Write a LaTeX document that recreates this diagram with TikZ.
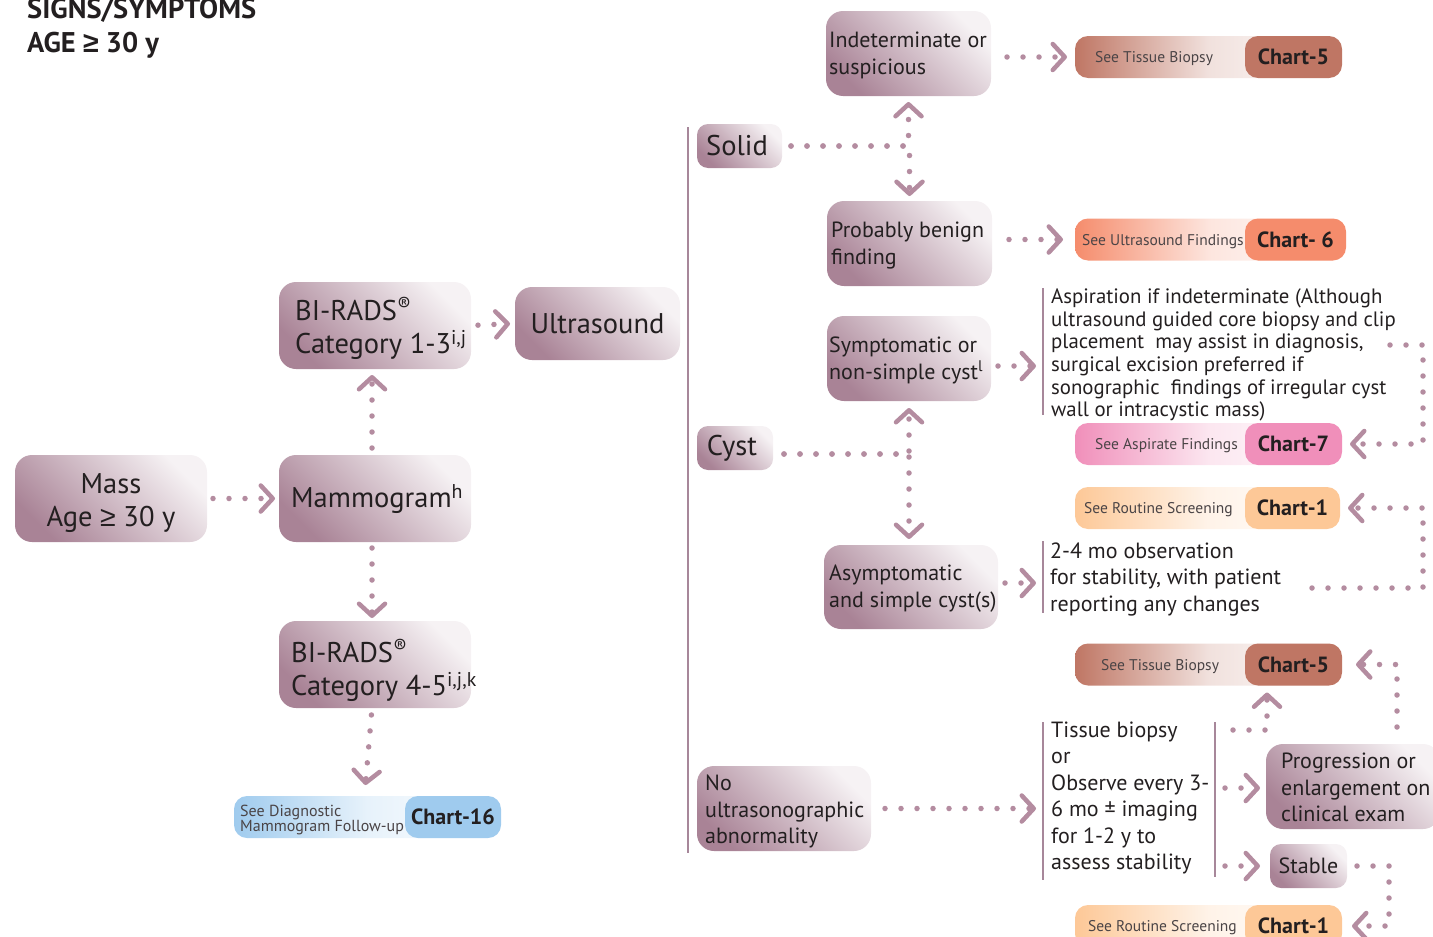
\documentclass[tikz,border=0pt]{standalone}
\usepackage{fontspec}
\setmainfont{PT Sans}
\newfontfamily\symfont{Liberation Sans}
\newcommand\gesign{{\symfont ≥}}
\usetikzlibrary{arrows.meta}

\definecolor{mauve}{HTML}{B48CA0}
\definecolor{mauvebar}{HTML}{A7879A}
\definecolor{boxdark}{HTML}{A98396}
\definecolor{boxlight}{HTML}{F6F2F4}
\definecolor{ink}{HTML}{231F20}
\definecolor{softink}{HTML}{4A4446}
\definecolor{cfive}{HTML}{BF7664}
\definecolor{csix}{HTML}{F58C6C}
\definecolor{cseven}{HTML}{F08FBA}
\definecolor{cone}{HTML}{FDC897}
\definecolor{csixteen}{HTML}{9FCBEE}

\tikzset{
  fbox/.style={rounded corners=17pt, top color=boxlight, bottom color=boxdark,
    shading angle=-45, text=ink, inner sep=0pt, outer sep=0pt},
  boxtext/.style={inner sep=0pt, text=ink, align=left},
  bigtext/.style={font=\fontsize{28.5}{33}\selectfont},
  midtext/.style={font=\fontsize{22}{26.5}\selectfont},
  conn/.style={draw=mauve, line width=5.5pt, line cap=round,
    dash pattern=on 0pt off 16pt,
    -{Straight Barb[length=12pt,width=26pt,line width=4.5pt,round]}},
  bar/.style={draw=mauvebar, line width=2.5pt},
  pillbase/.style={rounded corners=13pt, minimum height=42pt, inner sep=0pt, outer sep=0pt},
  pilltag/.style={rounded corners=13pt, minimum height=42pt, inner sep=0pt, outer sep=0pt,
    text=ink, font=\bfseries\fontsize{22}{24}\selectfont},
  pilltext/.style={inner sep=0pt, text=softink, font=\fontsize{15.5}{18}\selectfont, align=left},
  plaintext/.style={inner sep=0pt, text=ink, align=left},
}

% #1 name, #2 left x, #3 right x, #4 centre y, #5 start of tag, #6 colour,
% #7 x of the caption, #8 caption, #9 tag text
\newcommand\chartpill[9]{%
  \pgfmathsetmacro\cpw{#3-#2}%
  \pgfmathsetmacro\cpc{(#2+#3)/2}%
  \pgfmathsetmacro\cqw{#3-#5}%
  \pgfmathsetmacro\cqc{(#5+#3)/2}%
  \node[pillbase, minimum width=\cpw pt, left color=#6, right color=white,
    middle color=#6!22!white] (#1) at (\cpc,#4) {};
  \node[pilltag, fill=#6, minimum width=\cqw pt] (#1c) at (\cqc,#4) {#9};
  \node[pilltext, anchor=west] (#1t) at ([yshift=-2pt]#7,#4) {#8};
}

\begin{document}
\begin{tikzpicture}[x=1pt,y=-1pt]
\useasboundingbox (0,0) rectangle (1433,937);

% heading
\node[anchor=base west, inner sep=0pt, text=ink, font=\bfseries\fontsize{28.5}{30}\selectfont]
  (head1) at (27,18) {SIGNS/SYMPTOMS};
\node[anchor=base west, inner sep=0pt, text=ink, font=\bfseries\fontsize{28.5}{30}\selectfont]
  (head2) at (27,52) {AGE \gesign{} 30 y};

% left column
\node[fbox, minimum width=192pt, minimum height=87pt] (mass) at (111,498.5) {};
\node[boxtext, bigtext, align=center] (massT) at (111,503) {Mass\\Age \gesign{} 30 y};
\node[fbox, minimum width=192pt, minimum height=87pt] (mammo) at (375,498.5) {};
\node[boxtext, bigtext, anchor=west] (mammoT) at ([xshift=12pt,yshift=-1pt]mammo.west) {Mammogram\textsuperscript{h}};
\node[fbox, minimum width=192pt, minimum height=87pt] (bir13) at (375,325.5) {};
\node[boxtext, bigtext, anchor=west] (bir13T) at ([xshift=16pt,yshift=-3pt]bir13.west)
  {BI-RADS\textsuperscript{®}\\Category 1-3\textsuperscript{i,j}};
\node[fbox, minimum width=192pt, minimum height=87pt] (bir45) at (375,664.5) {};
\node[boxtext, bigtext, anchor=west] (bir45T) at ([xshift=12pt,yshift=-6pt]bir45.west)
  {BI-RADS\textsuperscript{®}\\Category 4-5\textsuperscript{i,j,k}};
\node[fbox, minimum width=165pt, minimum height=73pt] (ultra) at (597.5,323.5) {};
\node[boxtext, bigtext] (ultraT) at (ultra.center) {Ultrasound};

% Chart-16 pill
\node[pillbase, minimum width=267pt, left color=csixteen, right color=white,
  middle color=csixteen!25!white] (c16) at (367.5,817) {};
\node[pilltag, fill=csixteen, minimum width=96pt] (c16c) at (453,817) {Chart-16};
\node[pilltext, anchor=west, font=\fontsize{16}{14.5}\selectfont] (c16t) at (240,820)
  {See Diagnostic\\Mammogram Follow-up};

% ultrasound branches
\draw[bar] (688,127) -- (688,853);
\node[fbox, rounded corners=11pt, minimum width=85pt, minimum height=44pt] (solid) at (739.5,146) {};
\node[boxtext, bigtext] (solidT) at (737,146) {Solid};
\node[fbox, rounded corners=11pt, minimum width=76pt, minimum height=44pt] (cyst) at (735,448) {};
\node[boxtext, bigtext] (cystT) at (732,448) {Cyst};
\node[fbox, minimum width=174pt, minimum height=85pt] (noab) at (784,808.5) {};
\node[boxtext, midtext, anchor=west] (noabT) at ([xshift=8pt,yshift=-3pt]noab.west)
  {No\\ultrasonographic\\abnormality};

% solid / cyst outcomes
\node[fbox, minimum width=165pt, minimum height=85pt] (indet) at (908.5,53.5) {};
\node[boxtext, midtext, anchor=west] (indetT) at ([xshift=3pt,yshift=-2pt]indet.west) {Indeterminate or\\suspicious};
\node[fbox, minimum width=165pt, minimum height=85pt] (probben) at (909.5,243.5) {};
\node[boxtext, midtext, anchor=west] (probbenT) at ([xshift=4pt,yshift=-2pt]probben.west) {Probably benign\\finding};
\node[fbox, minimum width=164pt, minimum height=85pt] (sympt) at (909,358.5) {};
\node[boxtext, midtext, anchor=west] (symptT) at ([xshift=2pt,yshift=-2pt]sympt.west)
  {Symptomatic or\\non-simple cyst\textsuperscript{l}};
\node[fbox, minimum width=174pt, minimum height=84pt] (asympt) at (911,587) {};
\node[boxtext, midtext, anchor=west] (asymptT) at ([xshift=5pt,yshift=-1.5pt]asympt.west) {Asymptomatic\\and simple cyst(s)};

% chart pills
\chartpill{c5a}{1075}{1342}{57}{1245}{cfive}{1095}{See Tissue Biopsy}{Chart-5}
\chartpill{c6}{1075}{1346}{239.5}{1245}{csix}{1082}{See Ultrasound Findings}{Chart- 6}
\chartpill{c7}{1075}{1342}{444}{1245}{cseven}{1095}{See Aspirate Findings}{Chart-7}
\chartpill{c1a}{1075}{1340}{508}{1245}{cone}{1084}{See Routine Screening}{Chart-1}
\chartpill{c5b}{1075}{1342}{664.5}{1245}{cfive}{1101}{See Tissue Biopsy}{Chart-5}
\chartpill{c1b}{1075}{1342}{926}{1245}{cone}{1088}{See Routine Screening}{Chart-1}

% text blocks
\node[plaintext, anchor=west, font=\fontsize{20.8}{22.6}\selectfont] (asp) at (1051,355)
  {Aspiration if indeterminate (Although\\ultrasound guided core biopsy and clip\\
   placement\ \ may assist in diagnosis,\\surgical excision preferred if\\
   sonographic\ \ findings of irregular cyst\\wall or intracystic mass)};
\node[plaintext, anchor=west, font=\fontsize{22}{26.5}\selectfont] (obs) at (1050,579)
  {2-4 mo observation\\for stability, with patient\\reporting any changes};
\node[plaintext, anchor=west, font=\fontsize{22}{26.4}\selectfont] (tb) at (1051,798)
  {Tissue biopsy\\or\\Observe every 3-\\6 mo ± imaging\\for 1-2 y to\\assess stability};
\draw[bar] (1043,288) -- (1043,415);
\draw[bar] (1043,541) -- (1043,613);
\draw[bar] (1043,722) -- (1043,880);
\draw[bar] (1215,722) -- (1215,877);

\node[fbox, minimum width=174pt, minimum height=85pt] (prog) at (1353,786.5) {};
\node[boxtext, midtext, anchor=west] (progT) at ([xshift=15pt,yshift=-1pt]prog.west)
  {Progression or\\enlargement on\\clinical exam};
\node[fbox, rounded corners=11pt, minimum width=77pt, minimum height=44pt] (stable) at (1308.5,866) {};
\node[boxtext, midtext] (stableT) at (stable.center) {Stable};

% connector ports and corners
\coordinate (s1) at (991,366);
\coordinate (s2) at (998,583);
\coordinate (a7) at (1390,345);
\coordinate (k7) at (1423,345);
\coordinate (o1) at (1312,588);
\coordinate (k1) at (1423,588);
\coordinate (t1) at (1233,730);
\coordinate (k5) at (1267,730);
\coordinate (t2) at (1225,788);
\coordinate (t3) at (1225,866);
\coordinate (p5) at (1397,727);
\coordinate (k9) at (1389,866);
\coordinate (cy) at (773,454);

% connectors
\draw[conn, shorten <=6pt, shorten >=4pt] (mass.east) -- (mammo.west);
\draw[conn, shorten <=7pt, shorten >=6pt] ([xshift=-3pt]mammo.north) -- ([xshift=-3pt]bir13.south);
\draw[conn, shorten <=6pt, shorten >=3pt] ([xshift=-3pt]mammo.south) -- ([xshift=-3pt]bir45.north);
\draw[conn, shorten <=7pt, shorten >=11pt] ([xshift=-3pt]bir45.south) -- ([xshift=-3pt]c16.north);
\draw[conn, shorten <=7pt, shorten >=5pt] (bir13.east) -- (ultra.west);

\draw[conn, shorten <=9pt, shorten >=6pt] (solid.east) -| (indet.south);
\draw[conn, shorten <=9pt, shorten >=5pt] (solid.east) -| (probben.north);
\draw[conn, shorten <=11pt, shorten >=7pt] (cy) -| (sympt.south);
\draw[conn, shorten <=11pt, shorten >=6pt] (cy) -| ([xshift=-2pt]asympt.north);

\draw[conn, shorten <=16pt, shorten >=8pt] (indet.east |- c5a.west) -- (c5a.west);
\draw[conn, shorten <=17pt, shorten >=12pt] (probben.east |- c6.west) -- (c6.west);
\draw[conn, shorten <=7pt, shorten >=15pt] (s1) -- (s1 -| asp.west);
\draw[conn, shorten <=7pt, shorten >=14pt] (s2) -- (s2 -| obs.west);
\draw[conn, shorten <=14pt, shorten >=15pt] (noab.east) -- (noab.east -| tb.west);

\draw[conn, shorten >=8pt] (a7) -- (k7) |- (c7.east);
\draw[conn, shorten >=8pt] (o1) -- (k1) |- (c1a.east);
\draw[conn, shorten >=7pt] (t1) -- (k5) -- (k5 |- c5b.south);
\draw[conn, shorten >=6pt] (t2) -- (t2 -| prog.west);
\draw[conn, shorten >=10pt] (t3) -- (t3 -| stable.west);
\draw[conn, shorten >=14pt] (p5) |- (c5b.east);
\draw[conn, shorten <=10pt, shorten >=10pt] (stable.east) -- (k9) |- (c1b.east);
\end{tikzpicture}
\end{document}
